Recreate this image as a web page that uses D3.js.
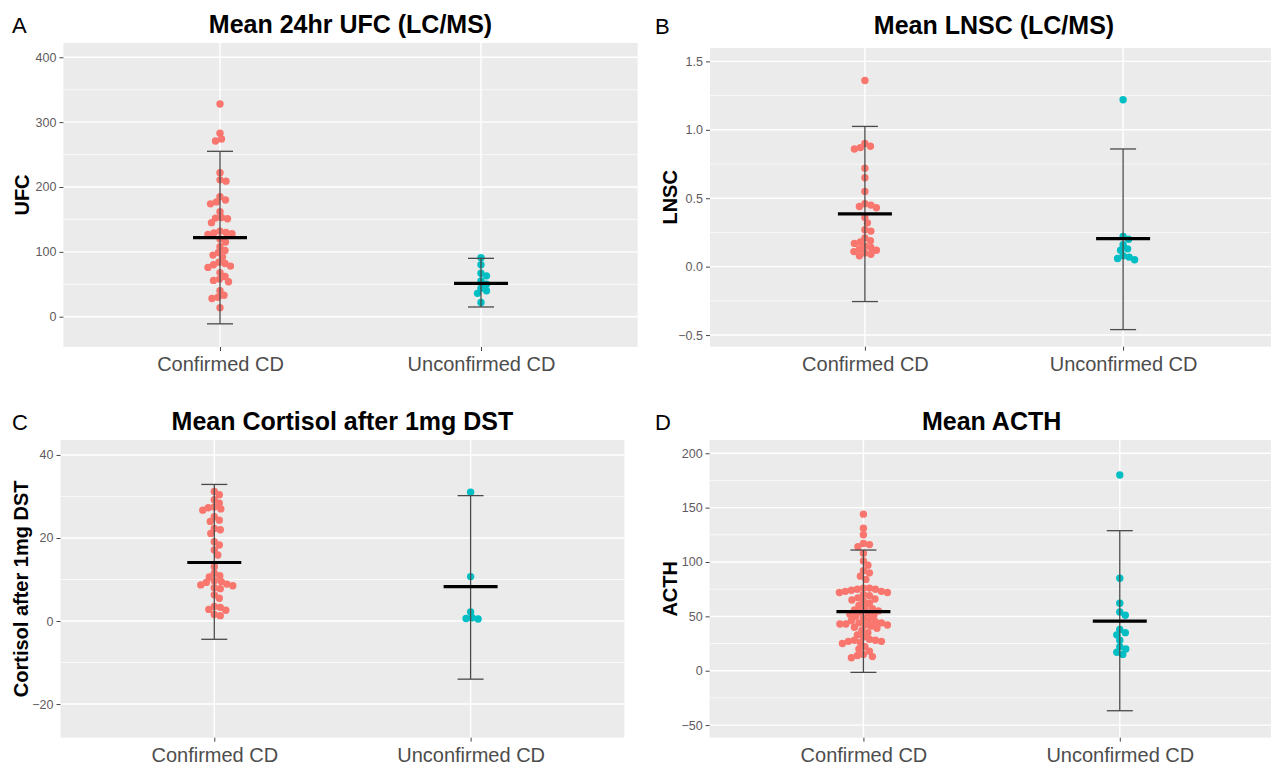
<!DOCTYPE html>
<html>
<head>
<meta charset="utf-8">
<script src="https://cdn.jsdelivr.net/npm/d3@7"></script>
<style>
  body { margin: 0; background: #fff; }
  text { font-family: "Liberation Sans", Arial, sans-serif; }
</style>
</head>
<body>
<svg id="fig" width="1271" height="769"></svg>
<script>
const groups = ["Confirmed CD", "Unconfirmed CD"];

// A: 24hr UFC
const ufcConfirmed = [328, 283, 274, 271, 222, 211, 209, 185, 180, 177, 174, 162, 153, 152, 151, 145, 132, 130,
  129, 128, 127, 120, 115, 108, 102, 99, 95, 92, 84, 82, 80, 78, 76, 68, 62, 58, 56, 54, 40, 33, 30, 28, 14];
const ufcUnconfirmed = [91, 80, 67, 63, 55, 50, 44, 40, 36, 22];
const ufcMean = [122, 51.5];
const ufcLow = [-11, 15];
const ufcHigh = [255, 90];
const ufcTicks = [0, 100, 200, 300, 400];

// B: LNSC
const lnscConfirmed = [1.36, 0.90, 0.88, 0.87, 0.86, 0.72, 0.65, 0.55, 0.46, 0.45, 0.44, 0.43, 0.36, 0.32,
  0.27, 0.26, 0.21, 0.19, 0.18, 0.17, 0.15, 0.14, 0.13, 0.12, 0.11, 0.10, 0.09, 0.08];
const lnscUnconfirmed = [1.22, 0.22, 0.20, 0.16, 0.13, 0.12, 0.08, 0.07, 0.06, 0.05];
const lnscMean = [0.385, 0.205];
const lnscLow = [-0.255, -0.46];
const lnscHigh = [1.025, 0.86];
const lnscTicks = [-0.5, 0, 0.5, 1.0, 1.5];

// C: cortisol after 1mg DST
const cortConfirmed = [31.2, 30.4, 29.2, 28.4, 27.5, 27.3, 27.0, 26.7, 25.1, 24.3, 24.0, 22.3, 22.0, 21.1, 19.1,
  18.3, 17.1, 15.9, 13.1, 11.5, 10.9, 10.6, 9.7, 9.5, 9.3, 8.9, 8.7, 8.5, 8.0, 7.8, 6.3, 5.5, 3.5, 3.3, 2.8, 2.6, 1.6, 1.3];
const cortUnconfirmed = [31, 10.7, 2.2, 0.8, 0.5, 0.6];
const cortMean = [14.1, 8.3];
const cortLow = [-4.4, -14.0];
const cortHigh = [32.9, 30.2];
const cortTicks = [-20, 0, 20, 40];

// D: ACTH
const acthConfirmed = [144, 131, 125, 117, 116, 114, 108, 101, 97, 92, 90, 87, 84,
  76, 76, 75, 75, 74, 73, 73, 72, 72, 70, 69, 67, 66, 65, 64, 62, 60, 58, 57, 56, 55, 54, 53, 52, 51, 50,
  48, 47, 46, 45, 44, 44, 43, 43, 42, 42, 41, 40, 39, 37, 35, 33, 31, 29, 28, 28, 27, 27, 26, 25, 22, 20,
  18, 15, 14, 13, 12];
const acthUnconfirmed = [180, 85, 62, 54, 51, 38, 35, 33, 28, 22, 20, 17, 15];
const acthMean = [54.3, 45.7];
const acthLow = [-1.5, -36.8];
const acthHigh = [111, 128.8];
const acthTicks = [-50, 0, 50, 100, 150, 200];

const colors = ["#F8766D", "#00BFC4"];

const panels = [
  { letter: "A", title: "Mean 24hr UFC (LC/MS)", ylab: "UFC", vals: [ufcConfirmed, ufcUnconfirmed],
    mean: ufcMean, low: ufcLow, high: ufcHigh, ticks: ufcTicks, fmt: d3.format("d"), minor: 50,
    box: { left: 63.4, right: 637.6, top: 43, bottom: 347 }, domain: [-46.7, 422], titleY: 33, ylabX: 29 },
  { letter: "B", title: "Mean LNSC (LC/MS)", ylab: "LNSC", vals: [lnscConfirmed, lnscUnconfirmed],
    mean: lnscMean, low: lnscLow, high: lnscHigh, ticks: lnscTicks, fmt: d3.format(".1f"), minor: 0.25,
    box: { left: 710, right: 1278, top: 48, bottom: 346.7 }, domain: [-0.585, 1.598], titleY: 34, ylabX: 677 },
  { letter: "C", title: "Mean Cortisol after 1mg DST", ylab: "Cortisol after 1mg DST", vals: [cortConfirmed, cortUnconfirmed],
    mean: cortMean, low: cortLow, high: cortHigh, ticks: cortTicks, fmt: d3.format("d"), minor: 10,
    box: { left: 60.5, right: 624.4, top: 440, bottom: 737.7 }, domain: [-28.1, 43.6], titleY: 430, ylabX: 28 },
  { letter: "D", title: "Mean ACTH", ylab: "ACTH", vals: [acthConfirmed, acthUnconfirmed],
    mean: acthMean, low: acthLow, high: acthHigh, ticks: acthTicks, fmt: d3.format("d"), minor: 25,
    box: { left: 709.6, right: 1273.6, top: 440, bottom: 737.7 }, domain: [-61.6, 212.2], titleY: 430, ylabX: 677 }
];

const svg = d3.select("#fig");
const R = 3.7;

// simple beeswarm: push each dot sideways until it no longer overlaps
function swarm(values, y, cx) {
  const pts = [];
  values.slice().sort((a, b) => b - a).forEach((v) => {
    const py = y(v);
    let off = 0;
    for (let k = 0; k < 400; k++) {
      const cand = k === 0 ? 0 : (k % 2 ? 1 : -1) * Math.ceil(k / 2) * 0.5;
      if (pts.every((p) => Math.hypot(p.x - (cx + cand), p.y - py) >= 2 * R - 1.4)) {
        off = cand;
        break;
      }
    }
    pts.push({ x: cx + off, y: py });
  });
  return pts;
}

panels.forEach((p) => {
  const b = p.box;
  const g = svg.append("g");
  const x = d3.scalePoint().domain(groups).range([b.left, b.right]).padding(0.6);
  const y = d3.scaleLinear().domain(p.domain).range([b.bottom, b.top]);

  g.append("rect")
    .attr("x", b.left).attr("y", b.top)
    .attr("width", b.right - b.left).attr("height", b.bottom - b.top)
    .attr("fill", "#EBEBEB");

  // minor grid
  const minors = d3.range(Math.ceil(p.domain[0] / p.minor) * p.minor, p.domain[1], p.minor)
    .filter((v) => !p.ticks.some((t) => Math.abs(t - v) < 1e-9));
  g.selectAll(".minor").data(minors).join("line")
    .attr("x1", b.left).attr("x2", b.right)
    .attr("y1", (d) => y(d)).attr("y2", (d) => y(d))
    .attr("stroke", "#fff").attr("stroke-width", 0.7);

  // major grid
  g.selectAll(".major").data(p.ticks).join("line")
    .attr("x1", b.left).attr("x2", b.right)
    .attr("y1", (d) => y(d)).attr("y2", (d) => y(d))
    .attr("stroke", "#fff").attr("stroke-width", 1.4);
  g.selectAll(".vmajor").data(groups).join("line")
    .attr("x1", (d) => x(d)).attr("x2", (d) => x(d))
    .attr("y1", b.top).attr("y2", b.bottom)
    .attr("stroke", "#fff").attr("stroke-width", 1.4);

  // y axis
  const ya = g.append("g").attr("transform", `translate(${b.left},0)`)
    .call(d3.axisLeft(y).tickValues(p.ticks).tickFormat(p.fmt).tickSize(4).tickPadding(3));
  ya.select(".domain").remove();
  ya.selectAll(".tick line").attr("stroke", "#444");
  ya.selectAll(".tick text").attr("fill", "#5f5a60").style("font-size", "12.5px")
    .style("font-family", '"Liberation Sans", Arial, sans-serif');

  // x axis
  const xa = g.append("g").attr("transform", `translate(0,${b.bottom})`)
    .call(d3.axisBottom(x).tickSize(4).tickPadding(6));
  xa.select(".domain").remove();
  xa.selectAll(".tick line").attr("stroke", "#444");
  xa.selectAll(".tick text").attr("fill", "#4D4D4D").style("font-size", "20px")
    .style("font-family", '"Liberation Sans", Arial, sans-serif');

  // dots
  p.vals.forEach((vals, i) => {
    const pts = swarm(vals, y, x(groups[i]));
    g.append("g").selectAll("circle").data(pts).join("circle")
      .attr("cx", (d) => d.x).attr("cy", (d) => d.y).attr("r", R)
      .attr("fill", colors[i]);
  });

  // error bars and mean
  groups.forEach((grp, i) => {
    const cx = x(grp);
    const eb = g.append("g").attr("stroke", "#4a4a4a").attr("stroke-width", 1.3);
    eb.append("line").attr("x1", cx).attr("x2", cx).attr("y1", y(p.low[i])).attr("y2", y(p.high[i]));
    eb.append("line").attr("x1", cx - 13).attr("x2", cx + 13).attr("y1", y(p.low[i])).attr("y2", y(p.low[i]));
    eb.append("line").attr("x1", cx - 13).attr("x2", cx + 13).attr("y1", y(p.high[i])).attr("y2", y(p.high[i]));
    g.append("line").attr("x1", cx - 27).attr("x2", cx + 27)
      .attr("y1", y(p.mean[i])).attr("y2", y(p.mean[i]))
      .attr("stroke", "#000").attr("stroke-width", 3.2);
  });

  // titles
  g.append("text")
    .attr("x", (b.left + b.right) / 2).attr("y", p.titleY)
    .attr("text-anchor", "middle")
    .style("font-size", "25px").style("font-weight", "bold")
    .text(p.title);

  g.append("text")
    .attr("x", b.left < 300 ? 12 : 655).attr("y", p.titleY)
    .style("font-size", "22px")
    .text(p.letter);

  g.append("text")
    .attr("transform", `translate(${p.ylabX},${(b.top + b.bottom) / 2}) rotate(-90)`)
    .attr("text-anchor", "middle")
    .style("font-size", "20px").style("font-weight", "bold")
    .text(p.ylab);
});
</script>
</body>
</html>
